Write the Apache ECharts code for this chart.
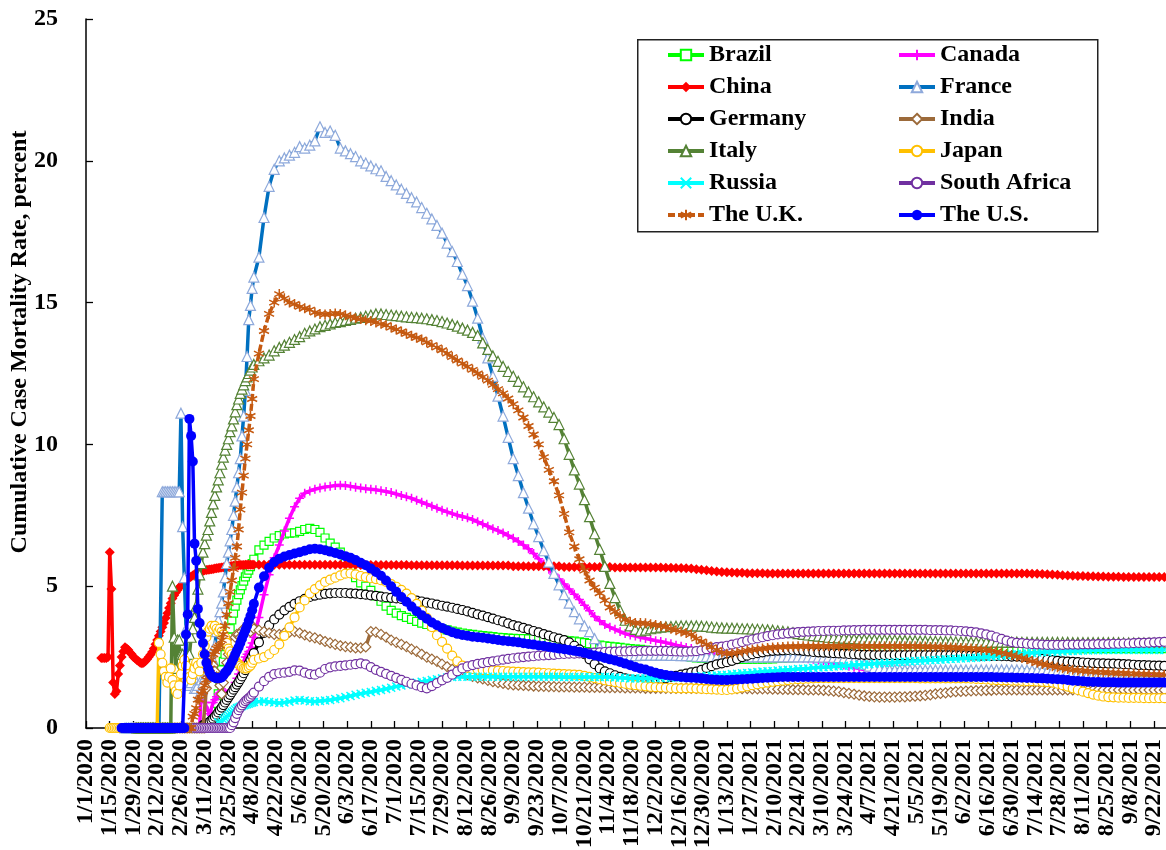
<!DOCTYPE html>
<html>
<head>
<meta charset="utf-8">
<title>Cumulative Case Mortality Rate</title>
<script src="https://cdn.jsdelivr.net/npm/echarts@6/dist/echarts.min.js"></script>
<style>
  html, body { margin: 0; padding: 0; background: #ffffff; }
  #chart { width: 1166px; height: 850px; }
</style>
</head>
<body>
<div id="chart"></div>
<script>
// Cumulative case mortality rate (%) by country, 1/1/2020 – 9/29/2021.
// Day 0 = 1/1/2020. Each "Early" array holds one value per day and ends on
// day 99 (4/9/2020); each "Late" array holds one value every third day,
// starting on day 102 (4/12/2020).

const countries = ['Brazil', 'Canada', 'China', 'France', 'Germany', 'India',
  'Italy', 'Japan', 'Russia', 'South Africa', 'The U.K.', 'The U.S.'];

const tickDays = [0, 14, 28, 42, 56, 70, 84, 98, 112, 126, 140, 154, 168, 182, 196, 210,
  224, 238, 252, 266, 280, 294, 308, 322, 336, 350, 364, 378, 392, 406, 420, 434, 448,
  462, 476, 490, 504, 518, 532, 546, 560, 574, 588, 602, 616, 630];

const brazilEarly = [0,0,0,0,0,0,0,0,0,0,0,0,0,0,0,0,0,0,0,0,
  0.4,0.87,1.2,1.6,2.05,2.35,2.6,2.87,3.2,3.5,
  3.81,4.05,4.3,4.51,4.7,4.87,5.02,5.18,5.33,5.45,
  5.57,5.69,5.8,5.95];
const brazilLate = [
  6.28,6.45,6.58,6.7,6.78,6.84,6.87,6.88,6.93,7.0,
  7.04,7.0,6.9,6.7,6.52,6.38,6.2,5.9,5.6,5.3,
  5.12,5.0,4.85,4.66,4.47,4.3,4.15,4.05,3.96,3.9,
  3.83,3.76,3.7,3.65,3.6,3.55,3.5,3.46,3.42,3.38,
  3.35,3.32,3.3,3.28,3.26,3.24,3.22,3.2,3.19,3.17,
  3.16,3.15,3.15,3.14,3.14,3.13,3.13,3.12,3.11,3.1,
  3.09,3.07,3.06,3.04,3.01,2.98,2.95,2.92,2.9,2.88,
  2.86,2.84,2.82,2.8,2.78,2.77,2.75,2.72,2.69,2.66,
  2.63,2.6,2.58,2.56,2.53,2.5,2.47,2.46,2.45,2.44,
  2.43,2.42,2.42,2.42,2.42,2.42,2.42,2.43,2.43,2.43,
  2.44,2.44,2.45,2.46,2.47,2.48,2.5,2.52,2.54,2.56,
  2.58,2.6,2.62,2.63,2.64,2.65,2.66,2.67,2.68,2.69,
  2.7,2.71,2.72,2.73,2.74,2.75,2.76,2.77,2.78,2.79,
  2.8,2.8,2.8,2.8,2.8,2.8,2.8,2.8,2.8,2.8,
  2.8,2.8,2.8,2.8,2.8,2.8,2.8,2.8,2.8,2.8,
  2.8,2.8,2.8,2.8,2.8,2.8,2.8,2.8,2.8,2.8,
  2.8,2.8,2.8,2.8,2.8,2.8,2.8,2.8,2.8,2.8,
  2.8,2.8,2.8,2.8,2.8,2.8,2.8,2.8,2.8];

const canadaEarly = [0,0,0,0,0,0,0,0,0,0,0,0,0,0,0,0,0,0,0,0,0,0,0,0,0,0,0,0,0,0,
  0,0,0,0,0,0,0,0,0,0,0,0,0,
  1.3,1.2,0.9,0.9,0.6,0.5,0.45,0.9,1.0,1.1,
  1.2,1.25,1.3,1.3,1.25,1.2,1.2,1.25,1.35,1.45,
  1.6,1.75,1.9,2.05,2.2,2.35,2.5,2.6,2.7,2.85,
  3.0,3.2];
const canadaLate = [
  3.9,4.7,5.4,6.0,6.45,6.95,7.4,7.8,8.1,8.28,
  8.36,8.42,8.46,8.5,8.52,8.55,8.56,8.55,8.52,8.49,
  8.46,8.44,8.42,8.4,8.37,8.34,8.3,8.25,8.2,8.15,
  8.1,8.03,7.96,7.89,7.82,7.75,7.68,7.62,7.56,7.5,
  7.46,7.41,7.35,7.27,7.19,7.11,7.03,6.96,6.88,6.79,
  6.69,6.58,6.45,6.32,6.15,5.97,5.78,5.6,5.42,5.25,
  5.08,4.9,4.72,4.53,4.33,4.13,3.93,3.78,3.65,3.55,
  3.48,3.4,3.33,3.28,3.24,3.2,3.16,3.12,3.08,3.05,
  3.01,2.97,2.92,2.88,2.84,2.8,2.72,2.68,2.64,2.62,
  2.6,2.59,2.58,2.57,2.56,2.55,2.55,2.54,2.54,2.53,
  2.53,2.52,2.52,2.51,2.5,2.49,2.48,2.46,2.44,2.42,
  2.4,2.37,2.34,2.3,2.26,2.22,2.18,2.14,2.1,2.06,
  2.03,2.0,1.98,1.96,1.94,1.93,1.92,1.91,1.9,1.89,
  1.88,1.88,1.88,1.88,1.88,1.88,1.88,1.88,1.88,1.88,
  1.87,1.87,1.87,1.87,1.87,1.87,1.87,1.87,1.87,1.87,
  1.86,1.86,1.86,1.86,1.86,1.86,1.86,1.86,1.86,1.86,
  1.85,1.85,1.85,1.85,1.85,1.85,1.85,1.85,1.85,1.85,
  1.84,1.84,1.84,1.84,1.84,1.84,1.84,1.84,1.84];

const chinaEarly = [
  2.47,2.47,2.47,2.47,2.5,6.2,4.9,1.6,1.2,1.3,
  1.9,2.2,2.5,2.7,2.85,2.8,2.75,2.65,2.6,2.5,
  2.45,2.4,2.35,2.3,2.28,2.3,2.35,2.42,2.5,2.58,
  2.68,2.8,2.95,3.1,3.25,3.4,3.55,3.7,3.88,4.05,
  4.23,4.4,4.57,4.68,4.78,4.87,4.95,5.02,5.08,5.14,
  5.2,5.25,5.3,5.34,5.38,5.42,5.45,5.48,5.5,5.52,
  5.54,5.56,5.57,5.58,5.59,5.6,5.61,5.62,5.63,5.64,
  5.65,5.66,5.67,5.68,5.69,5.7,5.7,5.71,5.72,5.73,
  5.74,5.74,5.75,5.75,5.75,5.76,5.76,5.76,5.76,5.76,5.76];
const chinaLate = [
  5.76,5.76,5.76,5.76,5.76,5.76,5.76,5.76,5.76,5.76,
  5.76,5.76,5.76,5.76,5.76,5.76,5.76,5.76,5.76,5.76,
  5.75,5.75,5.75,5.75,5.75,5.75,5.75,5.75,5.75,5.75,
  5.74,5.74,5.74,5.74,5.74,5.74,5.74,5.74,5.74,5.74,
  5.73,5.73,5.73,5.73,5.73,5.73,5.73,5.73,5.73,5.73,
  5.7,5.7,5.7,5.7,5.7,5.7,5.7,5.7,5.7,5.7,
  5.68,5.68,5.68,5.68,5.68,5.68,5.68,5.68,5.68,5.68,
  5.66,5.66,5.66,5.66,5.66,5.66,5.66,5.66,5.66,5.66,
  5.65,5.65,5.64,5.64,5.63,5.62,5.6,5.58,5.56,5.54,
  5.52,5.5,5.49,5.48,5.47,5.47,5.46,5.46,5.46,5.46,
  5.45,5.45,5.45,5.45,5.45,5.45,5.45,5.45,5.45,5.45,
  5.45,5.45,5.45,5.45,5.45,5.45,5.45,5.45,5.45,5.45,
  5.45,5.45,5.45,5.45,5.45,5.45,5.45,5.45,5.45,5.45,
  5.45,5.45,5.45,5.45,5.45,5.45,5.45,5.45,5.45,5.45,
  5.45,5.45,5.45,5.45,5.45,5.45,5.45,5.45,5.45,5.45,
  5.45,5.45,5.44,5.44,5.43,5.42,5.41,5.4,5.39,5.38,
  5.37,5.36,5.36,5.35,5.35,5.34,5.34,5.33,5.33,5.33,
  5.32,5.32,5.32,5.32,5.32,5.32,5.32,5.32,5.32];

const franceEarly = [0,0,0,0,0,0,0,0,0,0,0,0,0,0,0,0,0,0,0,0,0,0,
  8.33,8.33,8.33,8.33,8.33,8.33,8.33,8.33,8.33,8.33,
  8.33,11.1,7.1,5.3,3.5,2.0,1.5,1.6,1.9,1.4,
  1.4,1.5,1.2,1.7,1.6,1.8,1.9,2.0,2.1,2.2,
  2.4,2.9,3.4,3.8,4.1,4.4,4.8,5.3,5.8,6.2,
  6.6,7.0,7.5,8.0,8.5,9.0,9.5,10.3,11.0,11.9,
  13.1,14.4,14.9,15.5,15.9];
const franceLate = [
  16.6,18.0,19.1,19.7,20.0,20.1,20.2,20.3,20.5,20.45,
  20.55,20.7,21.2,21.0,21.05,20.9,20.45,20.35,20.25,20.15,
  20.0,19.92,19.82,19.72,19.65,19.45,19.3,19.15,19.0,18.85,
  18.7,18.55,18.35,18.15,17.95,17.72,17.45,17.1,16.8,16.45,
  16.0,15.6,15.05,14.45,13.75,13.05,12.4,11.7,11.0,10.25,
  9.5,8.9,8.3,7.75,7.2,6.75,6.25,5.85,5.45,5.05,
  4.7,4.4,4.1,3.85,3.6,3.4,3.15,2.85,2.65,2.55,
  2.52,2.52,2.53,2.54,2.55,2.56,2.57,2.57,2.57,2.57,
  2.57,2.56,2.56,2.55,2.55,2.54,2.53,2.52,2.52,2.51,
  2.51,2.51,2.51,2.51,2.51,2.51,2.51,2.51,2.51,2.51,
  2.51,2.51,2.51,2.51,2.51,2.51,2.51,2.51,2.51,2.51,
  2.5,2.5,2.5,2.49,2.48,2.46,2.42,2.36,2.3,2.24,
  2.18,2.13,2.09,2.06,2.05,2.05,2.05,2.05,2.05,2.05,
  2.05,2.05,2.05,2.05,2.05,2.05,2.05,2.05,2.05,2.05,
  2.05,2.05,2.05,2.05,2.05,2.05,2.05,2.05,2.05,2.05,
  2.05,2.04,2.04,2.03,2.03,2.02,2.02,2.01,2.0,1.99,
  1.97,1.95,1.93,1.91,1.89,1.87,1.85,1.84,1.83,1.82,
  1.81,1.8,1.8,1.79,1.78,1.78,1.77,1.77,1.76];

const germanyEarly = [0,0,0,0,0,0,0,0,0,0,0,0,0,0,0,0,0,0,0,0,0,0,0,0,0,0,0,0,0,0,
  0,0,0,0,0,0,0,0,0,0,0,0,
  0.1,0.12,0.15,0.18,0.22,0.28,0.33,0.4,0.47,0.55,
  0.63,0.72,0.81,0.9,0.99,1.08,1.17,1.26,1.35,1.44,
  1.53,1.62,1.72,1.82,1.93,2.04,2.16,2.28,2.4,2.52,
  2.64];
const germanyLate = [
  3.02,3.35,3.62,3.83,4.0,4.15,4.27,4.38,4.47,4.55,
  4.62,4.67,4.7,4.73,4.75,4.76,4.76,4.76,4.75,4.74,
  4.72,4.7,4.68,4.66,4.63,4.61,4.59,4.57,4.55,4.53,
  4.51,4.49,4.46,4.42,4.39,4.35,4.31,4.28,4.24,4.2,
  4.16,4.11,4.06,4.01,3.96,3.91,3.86,3.8,3.75,3.69,
  3.63,3.58,3.53,3.48,3.42,3.37,3.31,3.26,3.2,3.15,
  3.1,3.02,2.9,2.77,2.6,2.42,2.25,2.1,2.0,1.93,
  1.86,1.8,1.75,1.71,1.68,1.66,1.66,1.68,1.7,1.73,
  1.76,1.8,1.84,1.88,1.92,1.96,1.99,2.05,2.12,2.18,
  2.24,2.28,2.32,2.37,2.43,2.5,2.55,2.6,2.64,2.67,
  2.7,2.72,2.73,2.74,2.75,2.75,2.74,2.72,2.7,2.68,
  2.67,2.66,2.65,2.64,2.63,2.62,2.61,2.6,2.59,2.58,
  2.58,2.57,2.57,2.57,2.57,2.57,2.57,2.57,2.57,2.57,
  2.57,2.57,2.57,2.57,2.57,2.57,2.57,2.57,2.57,2.57,
  2.56,2.56,2.55,2.55,2.54,2.54,2.53,2.53,2.52,2.52,
  2.51,2.5,2.48,2.46,2.44,2.41,2.39,2.37,2.35,2.34,
  2.33,2.32,2.31,2.3,2.29,2.28,2.28,2.27,2.27,2.26,
  2.25,2.24,2.23,2.22,2.22,2.21,2.2,2.2,2.19];

const indiaEarly = [0,0,0,0,0,0,0,0,0,0,0,0,0,0,0,0,0,0,0,0,0,0,0,0,0,0,0,0,0,0,
  0,0,0,0,0,0,0,0,0,0,0,0,
  1.4,2.4,2.2,2.1,2.2,2.0,1.8,1.7,1.5,1.2,
  1.6,1.9,2.3,2.6,2.8,3.0,3.0,3.2,3.3,3.3,
  3.2,3.4,3.5,3.4,3.6,3.5,3.4,3.6,3.5];
const indiaLate = [
  3.45,3.4,3.35,3.3,3.3,3.35,3.38,3.4,3.35,3.28,
  3.22,3.18,3.12,3.05,3.0,2.95,2.9,2.87,2.85,2.82,
  2.82,2.86,3.4,3.38,3.3,3.2,3.1,3.02,2.95,2.87,
  2.78,2.7,2.6,2.5,2.43,2.35,2.25,2.16,2.07,2.0,
  1.94,1.88,1.82,1.77,1.73,1.68,1.63,1.6,1.57,1.54,
  1.52,1.51,1.5,1.49,1.48,1.47,1.47,1.46,1.46,1.45,
  1.45,1.45,1.44,1.44,1.44,1.43,1.43,1.43,1.42,1.42,
  1.42,1.42,1.41,1.41,1.41,1.41,1.4,1.4,1.4,1.4,
  1.4,1.4,1.4,1.4,1.4,1.4,1.4,1.4,1.4,1.4,
  1.4,1.4,1.4,1.39,1.39,1.39,1.39,1.38,1.38,1.38,
  1.38,1.37,1.37,1.36,1.36,1.35,1.35,1.35,1.34,1.34,
  1.34,1.33,1.32,1.3,1.28,1.25,1.22,1.19,1.16,1.13,
  1.11,1.1,1.09,1.09,1.09,1.09,1.1,1.1,1.11,1.12,
  1.13,1.15,1.17,1.2,1.22,1.24,1.26,1.28,1.29,1.3,
  1.31,1.32,1.32,1.33,1.33,1.34,1.34,1.34,1.34,1.34,
  1.34,1.34,1.34,1.34,1.34,1.34,1.34,1.34,1.34,1.34,
  1.34,1.34,1.34,1.34,1.34,1.34,1.34,1.34,1.34,1.34,
  1.34,1.34,1.34,1.34,1.34,1.34,1.34,1.34,1.34];

const italyEarly = [0,0,0,0,0,0,0,0,0,0,0,0,0,0,0,0,0,0,0,0,0,
  5.0,3.2,2.1,3.1,3.1,2.6,2.6,2.4,2.6,2.2,
  2.6,3.2,3.5,3.9,4.3,4.9,5.4,5.8,6.2,6.5,
  6.8,7.0,7.3,7.6,7.9,8.2,8.5,8.75,9.0,9.3,
  9.55,9.8,10.0,10.2,10.45,10.65,10.9,11.15,11.4,11.6,
  11.8,11.95,12.1,12.25,12.38,12.5,12.62,12.73,12.82];
const italyLate = [
  12.95,13.05,13.15,13.3,13.42,13.5,13.6,13.7,13.8,13.92,
  14.0,14.07,14.15,14.2,14.25,14.3,14.33,14.37,14.41,14.45,
  14.48,14.52,14.56,14.6,14.6,14.58,14.56,14.54,14.52,14.5,
  14.48,14.47,14.45,14.43,14.4,14.37,14.33,14.28,14.23,14.17,
  14.1,14.03,13.95,13.84,13.58,13.35,13.12,12.93,12.75,12.57,
  12.4,12.22,12.03,11.85,11.68,11.5,11.32,11.14,10.95,10.7,
  10.2,9.65,9.1,8.6,8.05,7.45,6.85,6.3,5.7,5.1,
  4.6,4.15,3.8,3.6,3.48,3.42,3.45,3.5,3.53,3.56,
  3.57,3.58,3.59,3.6,3.6,3.6,3.6,3.59,3.58,3.56,
  3.54,3.53,3.52,3.52,3.51,3.5,3.5,3.49,3.48,3.47,
  3.46,3.45,3.43,3.41,3.39,3.36,3.33,3.3,3.28,3.26,
  3.24,3.22,3.2,3.19,3.18,3.17,3.16,3.15,3.14,3.13,
  3.12,3.12,3.11,3.11,3.1,3.1,3.09,3.09,3.08,3.08,
  3.07,3.07,3.06,3.06,3.05,3.05,3.05,3.04,3.04,3.04,
  3.03,3.03,3.03,3.03,3.03,3.03,3.03,3.03,3.03,3.03,
  3.02,3.02,3.02,3.02,3.02,3.02,3.02,3.02,3.02,3.02,
  3.01,3.01,3.01,3.01,3.01,3.01,3.01,3.01,3.01,3.01,
  3.0,3.0,3.0,3.0,3.0,3.0,3.0,3.0,3.0];

const japanEarly = [0,0,0,0,0,0,0,0,0,0,0,0,0,0,0,0,0,0,0,0,0,0,0,0,0,0,0,0,0,
  3.0,2.6,2.3,2.0,1.8,1.6,1.8,2.1,1.7,1.5,
  1.3,1.2,1.5,1.9,2.2,2.4,2.2,1.9,1.8,1.7,
  1.9,2.1,2.3,2.2,2.0,2.3,2.6,2.9,3.2,3.4,
  3.5,3.6,3.5,3.6,3.5,3.4,3.5,3.4,3.3,3.2,
  3.0,2.8,2.7,2.6,2.5,2.4,2.3,2.25,2.2,2.15,
  2.1,2.1,2.1,2.15,2.2,2.3,2.4];
const japanLate = [
  2.45,2.5,2.6,2.75,2.95,3.25,3.55,3.9,4.25,4.5,
  4.75,4.9,5.03,5.15,5.23,5.3,5.38,5.44,5.45,5.42,
  5.36,5.32,5.28,5.25,5.21,5.15,5.07,4.98,4.87,4.74,
  4.58,4.38,4.14,3.88,3.56,3.27,3.04,2.8,2.55,2.35,
  2.2,2.12,2.08,2.06,2.05,2.04,2.03,2.02,2.01,2.0,
  1.99,1.98,1.97,1.96,1.96,1.95,1.94,1.93,1.92,1.91,
  1.9,1.89,1.88,1.87,1.84,1.8,1.76,1.72,1.68,1.65,
  1.62,1.59,1.56,1.53,1.51,1.49,1.47,1.45,1.44,1.43,
  1.42,1.41,1.4,1.4,1.4,1.4,1.39,1.38,1.37,1.36,
  1.35,1.34,1.34,1.36,1.39,1.43,1.47,1.51,1.54,1.57,
  1.6,1.63,1.65,1.67,1.69,1.71,1.72,1.73,1.74,1.75,
  1.76,1.76,1.76,1.76,1.76,1.76,1.76,1.76,1.76,1.76,
  1.76,1.76,1.76,1.76,1.76,1.76,1.76,1.76,1.76,1.76,
  1.75,1.75,1.75,1.75,1.75,1.75,1.75,1.75,1.75,1.75,
  1.74,1.73,1.72,1.71,1.7,1.69,1.68,1.68,1.67,1.67,
  1.66,1.65,1.65,1.64,1.63,1.62,1.6,1.56,1.51,1.46,
  1.4,1.34,1.28,1.23,1.18,1.14,1.11,1.09,1.08,1.07,
  1.07,1.06,1.06,1.06,1.05,1.05,1.05,1.05,1.05];

const russiaEarly = [0,0,0,0,0,0,0,0,0,0,0,0,0,0,0,0,0,0,0,0,0,0,0,0,0,0,0,0,0,0,
  0,0,0,0,0,0,0,0,0,0,0,0,0,0,0,0,0,0,
  0.2,0.15,0.2,0.3,0.35,0.4,0.45,0.5,0.55,0.6,
  0.65,0.7,0.72,0.75,0.78,0.8,0.82,0.84,0.86,0.88,
  0.9,0.92];
const russiaLate = [
  0.93,0.94,0.92,0.9,0.88,0.9,0.93,0.97,0.99,0.97,
  0.94,0.93,0.95,0.97,0.99,1.02,1.05,1.09,1.13,1.17,
  1.21,1.24,1.27,1.31,1.34,1.38,1.42,1.46,1.5,1.53,
  1.57,1.6,1.63,1.66,1.69,1.72,1.75,1.78,1.8,1.81,
  1.81,1.81,1.81,1.81,1.81,1.81,1.81,1.81,1.81,1.81,
  1.81,1.81,1.81,1.81,1.81,1.81,1.81,1.81,1.81,1.81,
  1.8,1.8,1.8,1.8,1.8,1.8,1.8,1.8,1.8,1.8,
  1.78,1.77,1.76,1.75,1.75,1.75,1.75,1.75,1.76,1.76,
  1.77,1.77,1.78,1.78,1.79,1.8,1.81,1.82,1.83,1.84,
  1.86,1.87,1.88,1.9,1.91,1.93,1.94,1.96,1.97,1.99,
  2.0,2.01,2.03,2.04,2.05,2.06,2.08,2.09,2.1,2.12,
  2.13,2.14,2.15,2.17,2.18,2.19,2.2,2.22,2.23,2.24,
  2.25,2.27,2.28,2.29,2.3,2.31,2.33,2.34,2.35,2.36,
  2.37,2.38,2.39,2.4,2.41,2.42,2.43,2.44,2.45,2.46,
  2.47,2.48,2.49,2.5,2.51,2.53,2.55,2.57,2.59,2.61,
  2.62,2.64,2.65,2.66,2.67,2.68,2.69,2.69,2.7,2.71,
  2.72,2.72,2.73,2.73,2.74,2.74,2.74,2.75,2.75,2.75,
  2.75,2.75,2.75,2.75,2.75,2.75,2.75,2.75,2.75];

const southAfricaEarly = [0,0,0,0,0,0,0,0,0,0,0,0,0,0,0,0,0,0,0,0,0,0,
  0.1,0.2,0.35,0.5,0.63,0.72,0.8,0.88,0.95,1.0,
  1.05,1.1,1.18,1.25];
const southAfricaLate = [
  1.46,1.65,1.8,1.9,1.93,1.95,1.98,2.03,2.02,1.95,
  1.9,1.88,1.95,2.08,2.14,2.17,2.19,2.21,2.23,2.25,
  2.28,2.24,2.15,2.05,1.98,1.91,1.84,1.77,1.7,1.63,
  1.56,1.5,1.44,1.4,1.48,1.58,1.68,1.77,1.88,2.0,
  2.1,2.17,2.22,2.26,2.29,2.32,2.35,2.38,2.41,2.44,
  2.46,2.48,2.5,2.52,2.53,2.55,2.56,2.57,2.58,2.6,
  2.61,2.62,2.62,2.63,2.64,2.65,2.66,2.67,2.68,2.69,
  2.69,2.7,2.7,2.71,2.71,2.72,2.72,2.72,2.72,2.72,
  2.72,2.71,2.7,2.69,2.69,2.7,2.71,2.74,2.78,2.82,
  2.85,2.87,2.9,2.94,2.98,3.03,3.08,3.12,3.16,3.2,
  3.24,3.27,3.3,3.32,3.34,3.36,3.38,3.39,3.4,3.41,
  3.42,3.42,3.43,3.43,3.43,3.44,3.44,3.45,3.45,3.46,
  3.46,3.46,3.46,3.46,3.46,3.46,3.46,3.46,3.46,3.46,
  3.46,3.46,3.45,3.45,3.45,3.44,3.44,3.43,3.42,3.41,
  3.39,3.37,3.34,3.3,3.26,3.2,3.14,3.08,3.03,3.0,
  2.99,2.97,2.96,2.95,2.94,2.93,2.93,2.93,2.93,2.94,
  2.94,2.94,2.95,2.95,2.95,2.96,2.96,2.96,2.97,2.97,
  2.98,2.98,2.99,3.0,3.0,3.01,3.02,3.03,3.04];

const ukEarly = [0,0,0,0,0,0,0,0,0,0,0,0,0,0,0,0,0,0,0,0,0,0,0,0,0,0,0,0,0,0,0,0,0,
  0.4,0.5,0.7,1.0,1.0,1.2,1.3,1.5,1.7,1.9,
  2.1,2.4,2.6,2.7,2.8,2.85,2.9,3.1,3.3,3.6,
  4.0,4.4,4.8,5.2,5.6,6.0,6.4,7.0,7.7,8.3,
  8.9,9.5,10.0,10.5,11.0,11.6,12.3];
const ukLate = [
  13.2,14.0,14.6,15.0,15.3,15.15,15.0,14.95,14.85,14.8,
  14.75,14.65,14.6,14.58,14.6,14.62,14.6,14.55,14.5,14.45,
  14.42,14.38,14.35,14.3,14.25,14.2,14.12,14.05,13.98,13.9,
  13.83,13.76,13.7,13.6,13.5,13.42,13.32,13.2,13.08,12.96,
  12.85,12.74,12.63,12.5,12.38,12.25,12.1,11.95,11.8,11.62,
  11.42,11.2,10.95,10.65,10.35,10.0,9.55,9.1,8.7,8.2,
  7.55,6.9,6.4,5.95,5.55,5.2,4.95,4.75,4.5,4.25,
  4.1,3.95,3.82,3.75,3.7,3.7,3.69,3.66,3.63,3.6,
  3.57,3.5,3.45,3.4,3.35,3.3,3.15,3.05,2.95,2.85,
  2.75,2.65,2.62,2.63,2.66,2.7,2.73,2.76,2.78,2.8,
  2.82,2.84,2.85,2.86,2.87,2.87,2.88,2.88,2.88,2.88,
  2.88,2.88,2.88,2.88,2.88,2.88,2.88,2.88,2.88,2.88,
  2.88,2.88,2.88,2.88,2.88,2.88,2.88,2.88,2.88,2.88,
  2.87,2.87,2.86,2.86,2.85,2.85,2.84,2.83,2.82,2.81,
  2.8,2.79,2.77,2.75,2.72,2.69,2.65,2.61,2.57,2.52,
  2.47,2.42,2.36,2.3,2.26,2.22,2.18,2.14,2.11,2.08,
  2.05,2.03,2.01,2.0,1.98,1.97,1.96,1.95,1.94,1.93,
  1.93,1.92,1.91,1.9,1.9,1.89,1.88,1.88,1.87];

const usEarly = [0,0,0,0,0,0,0,0,0,0,0,0,0,0,0,0,0,0,0,0,0,0,0,0,0,0,0,0,0,0,
  0,0,0,0,0,0,0,0,
  3.3,4.0,10.9,10.3,9.4,6.5,5.9,4.2,3.7,3.3,
  3.0,2.6,2.3,2.1,1.95,1.85,1.8,1.78,1.75,1.75,
  1.76,1.78,1.85,1.95,2.0,2.1,2.2,2.33,2.45,2.6,
  2.73,2.85,3.0,3.15,3.3,3.45,3.6,3.78,3.95,4.15,
  4.38];
const usLate = [
  4.95,5.35,5.65,5.85,5.97,6.05,6.1,6.15,6.2,6.25,
  6.3,6.32,6.3,6.27,6.22,6.17,6.12,6.06,6.0,5.92,
  5.83,5.74,5.62,5.5,5.37,5.2,5.0,4.8,4.62,4.45,
  4.28,4.12,3.98,3.85,3.72,3.62,3.53,3.45,3.38,3.32,
  3.28,3.25,3.22,3.2,3.18,3.16,3.13,3.1,3.08,3.06,
  3.04,3.02,2.99,2.96,2.94,2.91,2.89,2.86,2.83,2.8,
  2.78,2.75,2.72,2.69,2.65,2.6,2.56,2.52,2.47,2.42,
  2.38,2.33,2.27,2.21,2.15,2.1,2.06,2.0,1.95,1.9,
  1.87,1.84,1.82,1.8,1.78,1.77,1.76,1.75,1.73,1.71,
  1.7,1.69,1.69,1.7,1.71,1.72,1.73,1.74,1.75,1.76,
  1.77,1.78,1.79,1.8,1.8,1.8,1.8,1.8,1.8,1.8,
  1.8,1.8,1.8,1.8,1.8,1.8,1.8,1.8,1.8,1.8,
  1.8,1.8,1.8,1.8,1.8,1.8,1.8,1.8,1.8,1.8,
  1.8,1.8,1.8,1.8,1.8,1.8,1.8,1.8,1.8,1.8,
  1.8,1.8,1.8,1.8,1.8,1.79,1.79,1.78,1.78,1.77,
  1.77,1.76,1.76,1.75,1.75,1.74,1.73,1.72,1.71,1.69,
  1.67,1.66,1.65,1.63,1.62,1.62,1.61,1.61,1.61,1.6,
  1.6,1.6,1.6,1.6,1.6,1.6,1.6,1.6,1.6];

const seriesValues = [
  [brazilEarly, brazilLate], [canadaEarly, canadaLate], [chinaEarly, chinaLate],
  [franceEarly, franceLate], [germanyEarly, germanyLate], [indiaEarly, indiaLate],
  [italyEarly, italyLate], [japanEarly, japanLate], [russiaEarly, russiaLate],
  [southAfricaEarly, southAfricaLate], [ukEarly, ukLate], [usEarly, usLate]
];

// Marker shapes drawn as stroked paths
const PLUS = 'path://M5,0L5,10M0,5L10,5';
const CROSS = 'path://M0,0L10,10M0,10L10,0';
const STAR = 'path://M5,0L5,10M0.67,2.5L9.33,7.5M0.67,7.5L9.33,2.5';

// line colour, marker colour, marker shape, size, hollow?, stroked path?, dashed?
const looks = [
  { line: '#00FF00', mark: '#00FF00', symbol: 'rect', size: 8, hollow: true },
  { line: '#FF00FF', mark: '#FF00FF', symbol: PLUS, size: 9, path: true },
  { line: '#FF0000', mark: '#FF0000', symbol: 'diamond', size: 10 },
  { line: '#0070C0', mark: '#8EA9DB', symbol: 'triangle', size: 10, hollow: true },
  { line: '#000000', mark: '#000000', symbol: 'circle', size: 9, hollow: true },
  { line: '#9C6A3A', mark: '#9C6A3A', symbol: 'diamond', size: 10, hollow: true },
  { line: '#548235', mark: '#548235', symbol: 'triangle', size: 10, hollow: true },
  { line: '#FFC000', mark: '#FFC000', symbol: 'circle', size: 9, hollow: true },
  { line: '#00FFFF', mark: '#00FFFF', symbol: CROSS, size: 8, path: true },
  { line: '#7030A0', mark: '#7030A0', symbol: 'circle', size: 9, hollow: true },
  { line: '#C55A11', mark: '#C55A11', symbol: STAR, size: 10, path: true, dashed: true },
  { line: '#0000FF', mark: '#0000FF', symbol: 'circle', size: 10 }
];

function toPoints(early, late) {
  const first = 100 - early.length;
  const pts = early.map((v, i) => [first + i, v]);
  late.forEach((v, i) => pts.push([102 + 3 * i, v]));
  return pts;
}

// Label positions: the dated ticks, plus a blank guard label just inside
// each end so that the first and last dates are never dropped as overlaps.
const labelDays = [0, 0.001].concat(tickDays.slice(1), [630.001]);

// Date text for the labelled tick days; other positions stay blank
function dayLabel(d) {
  if (tickDays.indexOf(d) < 0) return '';
  const t = new Date(2020, 0, 1 + d);
  return (t.getMonth() + 1) + '/' + t.getDate() + '/' + t.getFullYear();
}

const FONT = '"Times New Roman", "Liberation Serif", serif';
const textBase = { fontFamily: FONT, fontWeight: 'bold', fontSize: 24, color: '#000' };

const series = countries.map((name, k) => {
  const s = looks[k];
  const itemStyle = s.hollow
    ? { color: '#ffffff', borderColor: s.mark, borderWidth: 1.2 }
    : s.path
      ? { color: s.mark, borderColor: s.mark, borderWidth: 1.5 }
      : { color: s.mark, borderWidth: 0 };
  return {
    type: 'line',
    name: name,
    data: toPoints(seriesValues[k][0], seriesValues[k][1]),
    symbol: s.symbol,
    symbolSize: s.size,
    showAllSymbol: true,
    lineStyle: { color: s.line, width: 3.5, type: s.dashed ? [7, 3] : 'solid' },
    itemStyle: itemStyle,
    emphasis: { disabled: true },
    silent: true,
    animation: false,
    z: 2 + k
  };
});

const legendText = Object.assign({}, textBase, { lineHeight: 24 });
const legendCommon = {
  orient: 'vertical', top: 43, itemWidth: 36, itemHeight: 13, itemGap: 8,
  textStyle: legendText, selectedMode: false, lineStyle: { width: 4 },
  padding: 0
};

const chart = echarts.init(document.getElementById('chart'), null, { renderer: 'canvas' });
chart.setOption({
  animation: false,
  backgroundColor: '#ffffff',
  grid: { left: 86, right: 0, top: 19, bottom: 122, containLabel: false, outerBoundsMode: 'none' },
  xAxis: {
    type: 'value', min: 0, max: 637, interval: 14,
    axisLine: { show: true, onZero: false, lineStyle: { color: '#000', width: 1.5 } },
    axisTick: {
      show: true, inside: true, length: 7, customValues: tickDays,
      lineStyle: { color: '#000', width: 1.3 }
    },
    axisLabel: Object.assign({
      rotate: 90, margin: 11, formatter: dayLabel, hideOverlap: false,
      customValues: labelDays, showMinLabel: true, showMaxLabel: false
    }, textBase),
    splitLine: { show: false }
  },
  yAxis: {
    type: 'value', min: 0, max: 25, interval: 5,
    axisLine: { show: true, lineStyle: { color: '#000', width: 1.5 } },
    axisTick: { show: true, inside: true, length: 7, lineStyle: { color: '#000', width: 1.3 } },
    axisLabel: Object.assign({ margin: 28, showMinLabel: true, showMaxLabel: true }, textBase),
    splitLine: { show: false }
  },
  legend: [
    Object.assign({ left: 666, data: ['Brazil', 'China', 'Germany', 'Italy', 'Russia', 'The U.K.'] }, legendCommon),
    Object.assign({ left: 897, data: ['Canada', 'France', 'India', 'Japan', 'South Africa', 'The U.S.'] }, legendCommon)
  ],
  graphic: [
    {
      type: 'rect', left: 637, top: 39, z: -1,
      shape: { width: 460, height: 192 },
      style: { fill: '#ffffff', stroke: '#222', lineWidth: 1.5 }
    },
    {
      type: 'text', x: 20, y: 342, rotation: Math.PI / 2,
      style: {
        text: 'Cumulative Case Mortality Rate, percent',
        font: 'bold 24px ' + FONT, fill: '#000',
        textAlign: 'center', textVerticalAlign: 'middle'
      }
    }
  ],
  series: series
});
</script>
</body>
</html>
